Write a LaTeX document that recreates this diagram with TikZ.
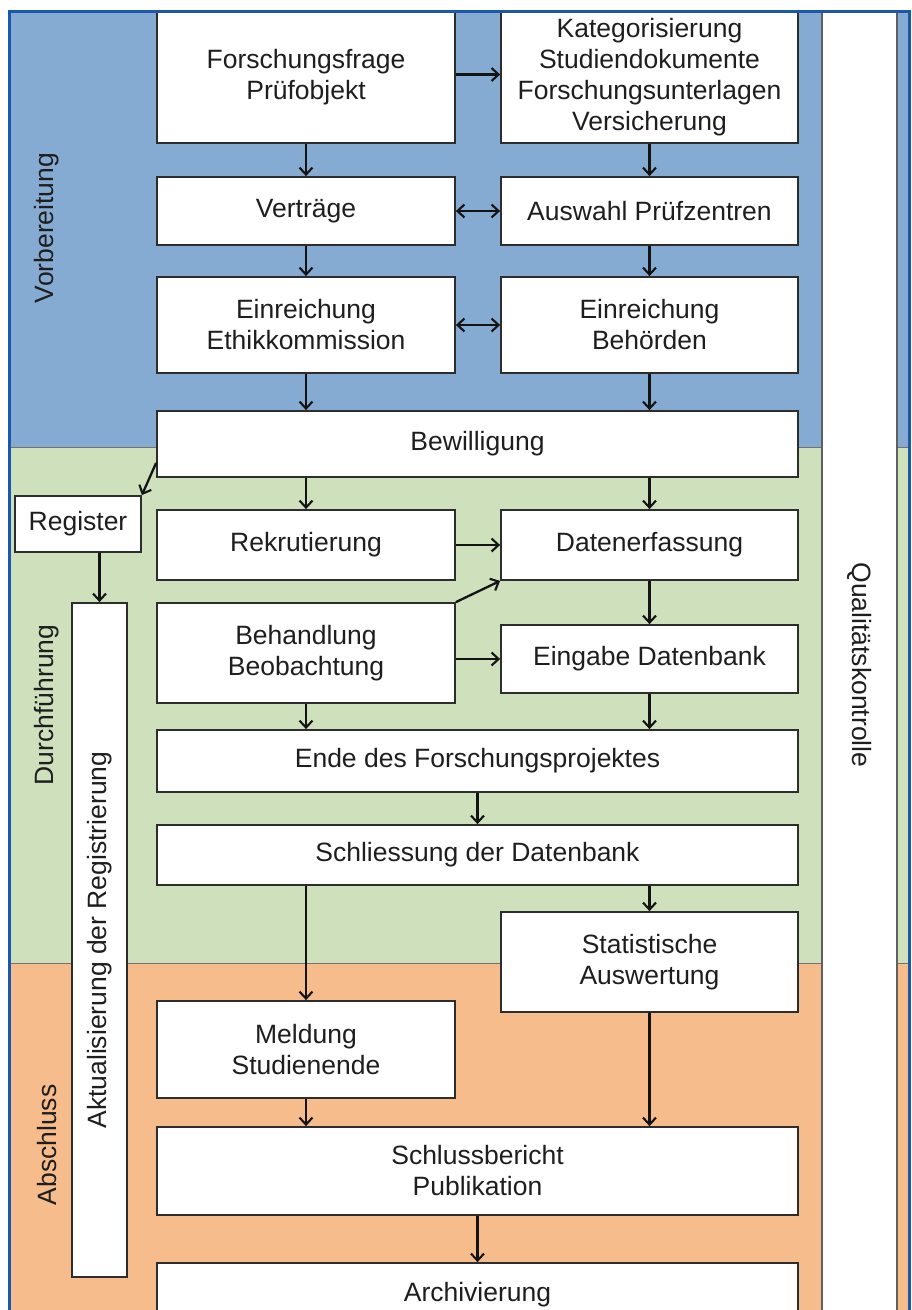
\documentclass[tikz,border=0pt]{standalone}
\usepackage{fontspec}
\setmainfont{Liberation Sans}
\usetikzlibrary{arrows.meta,calc}
\definecolor{bandblue}{RGB}{134,171,211}
\definecolor{bandgreen}{RGB}{207,224,189}
\definecolor{bandorange}{RGB}{247,188,140}
\definecolor{frameblue}{RGB}{28,88,170}
\definecolor{boxline}{RGB}{45,45,45}
\definecolor{txt}{RGB}{30,30,30}
\begin{document}
\begin{tikzpicture}[x=1pt,y=-1pt,
  box/.style={draw=boxline, line width=1.8pt, fill=white, align=center, inner sep=0pt,
    text=txt, font=\fontsize{26.5}{31}\selectfont},
  lbl/.style={text=txt, font=\fontsize{26.5}{31}\selectfont, inner sep=0pt},
  arr/.style={draw=black!92, line width=2.3pt, -{Straight Barb[length=7pt,width=13pt,line width=2.1pt]}},
  dbl/.style={draw=black!92, line width=2.3pt, {Straight Barb[length=7pt,width=13pt,line width=2.1pt]}-{Straight Barb[length=7pt,width=13pt,line width=2.1pt]}},
  sep/.style={draw=black!55, line width=1pt}]
\useasboundingbox (0,0) rectangle (912,1310);
\clip (0,0) rectangle (912,1310);
\fill[white] (0,0) rectangle (912,1310);
% bands
\fill[bandblue] (9,11) rectangle (909,447);
\fill[bandgreen] (9,447) rectangle (909,963);
\fill[bandorange] (9,963) rectangle (909,1312);
\draw[sep] (9,447) -- (909,447);
\draw[sep] (9,963) -- (909,963);
% quality column
\fill[white] (822,11) rectangle (897,1312);
\draw[gray!75!black, line width=2.5pt] (822,11) -- (822,1312);
\draw[gray!75!black, line width=2.5pt] (897,11) -- (897,1312);
\node[lbl, rotate=-90] (qk) at (859.5,665) {Qualitätskontrolle};
% band labels
\node[lbl, rotate=90] (vorb) at (47,228) {Vorbereitung};
\node[lbl, rotate=90] (durch) at (47,705) {Durchführung};
\node[lbl, rotate=90] (absch) at (47,1145) {Abschluss};
% boxes
\node[box, minimum width=298pt, minimum height=131pt] (ff) at (306,77.5) {Forschungsfrage\\Prüfobjekt};
\node[box, minimum width=297pt, minimum height=131pt] (kat) at (649.5,77.5) {Kategorisierung\\Studiendokumente\\Forschungsunterlagen\\Versicherung};
\node[box, minimum width=298pt, minimum height=68pt] (vert) at (306,211) {Verträge};
\node[box, minimum width=297pt, minimum height=68pt] (ausw) at (649.5,211) {Auswahl Prüfzentren};
\node[box, minimum width=298pt, minimum height=96pt] (ethik) at (306,325) {Einreichung\\Ethikkommission};
\node[box, minimum width=297pt, minimum height=96pt] (behoe) at (649.5,325) {Einreichung\\Behörden};
\node[box, minimum width=641pt, minimum height=66pt] (bew) at (477.5,444) {Bewilligung};
\node[box, minimum width=126pt, minimum height=56pt] (reg) at (78,524) {Register};
\node[box, minimum width=298pt, minimum height=70pt] (rek) at (306,545) {Rekrutierung};
\node[box, minimum width=297pt, minimum height=70pt] (daten) at (649.5,545) {Datenerfassung};
\node[box, minimum width=298pt, minimum height=100pt] (behand) at (306,653) {Behandlung\\Beobachtung};
\node[box, minimum width=297pt, minimum height=68pt] (eing) at (649.5,659) {Eingabe Datenbank};
\node[box, minimum width=55pt, minimum height=674pt] (akt) at (99.5,940) {};
\node[lbl, rotate=90] (akttxt) at (akt.center) {Aktualisierung der Registrierung};
\node[box, minimum width=641pt, minimum height=62pt] (ende) at (477.5,761) {Ende des Forschungsprojektes};
\node[box, minimum width=641pt, minimum height=60pt] (schl) at (477.5,855) {Schliessung der Datenbank};
\node[box, minimum width=297pt, minimum height=100pt] (stat) at (649.5,962) {Statistische\\Auswertung};
\node[box, minimum width=298pt, minimum height=97pt] (meld) at (306,1049.5) {Meldung\\Studienende};
\node[box, minimum width=641pt, minimum height=88pt] (schlb) at (477.5,1171) {Schlussbericht\\Publikation};
\node[box, minimum width=641pt, minimum height=64pt] (arch) at (477.5,1295) {Archivierung};
% connectors
\draw[arr] ([yshift=3pt]ff.east) -- ([yshift=3pt]kat.west);
\draw[arr] (ff.south) -- (vert.north);
\draw[arr] (kat.south) -- (ausw.north);
\draw[dbl] (vert.east) -- (ausw.west);
\draw[arr] (vert.south) -- (ethik.north);
\draw[arr] (ausw.south) -- (behoe.north);
\draw[dbl] (ethik.east) -- (behoe.west);
\draw[arr] (ethik.south) -- (ethik.south |- bew.north);
\draw[arr] (behoe.south) -- (behoe.south |- bew.north);
\draw[arr] ([yshift=15pt]bew.south west) -- (reg.north east);
\draw[arr] (bew.south -| rek) -- (rek.north);
\draw[arr] (bew.south -| daten) -- (daten.north);
\draw[arr] (reg.south -| akt) -- (akt.north);
\draw[arr] (rek.east) -- (daten.west);
\draw[arr] (behand.north east) -- (daten.south west);
\draw[arr] (behand.east |- eing) -- (eing.west);
\draw[arr] (daten.south) -- (eing.north);
\draw[arr] (behand.south) -- (behand.south |- ende.north);
\draw[arr] (eing.south) -- (eing.south |- ende.north);
\draw[arr] (ende.south) -- (schl.north);
\draw[arr] (schl.south -| meld) -- (meld.north);
\draw[arr] (schl.south -| stat) -- (stat.north);
\draw[arr] (meld.south) -- (meld.south |- schlb.north);
\draw[arr] (stat.south) -- (stat.south |- schlb.north);
\draw[arr] (schlb.south) -- (arch.north);
% frame
\draw[frameblue, line width=3pt] (9,1312) -- (9,11) -- (909,11) -- (909,1312);
\end{tikzpicture}
\end{document}
